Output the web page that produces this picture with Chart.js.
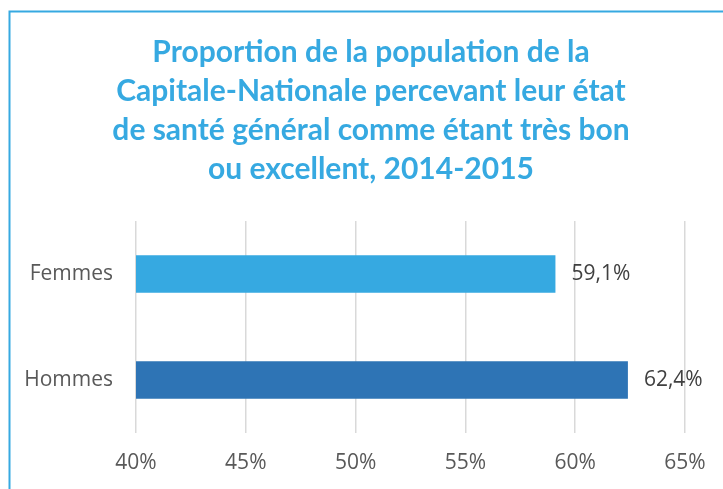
<!DOCTYPE html>
<html><head><meta charset="utf-8">
<script src="https://cdn.jsdelivr.net/npm/chart.js@4"></script>
<style>html,body{margin:0;padding:0;background:#fff;}#wrap{width:723px;height:489px;position:relative;}</style>
</head><body><div id="wrap"><canvas id="c" width="723" height="489"></canvas></div>
<script>
const titleLines = ["Proportion de la population de la","Capitale-Nationale percevant leur état","de santé général comme étant très bon","ou excellent, 2014-2015"];
const categories = ["Femmes","Hommes"];
const values = [59.1, 62.4];
const barColors = ["#36A9E1","#2E74B5"];
const valueLabels = ["59,1%","62,4%"];
const xMin = 40, xMax = 65, xStep = 5;

const frameAndTitle = {
  id:'frameAndTitle',
  beforeDraw(chart){
    const ctx = chart.ctx;
    ctx.save();
    ctx.fillStyle='#fff';ctx.fillRect(0,0,chart.width,chart.height);
    ctx.strokeStyle='#36A9E1';ctx.lineWidth=2;
    ctx.strokeRect(9.5,11.5,800,600);
    ctx.fillStyle='#36A9E1';
    ctx.font='bold 30px Lato';
    ctx.textAlign='center';ctx.textBaseline='alphabetic';
    const ys=[62,101,140,179];
    titleLines.forEach((t,i)=>ctx.fillText(t,371,ys[i]));
    ctx.restore();
  },
  afterDatasetsDraw(chart){
    const ctx=chart.ctx;const meta=chart.getDatasetMeta(0);
    ctx.save();ctx.fillStyle='#404040';ctx.font='21px "Open Sans"';
    ctx.textAlign='left';ctx.textBaseline='middle';
    meta.data.forEach((el,i)=>ctx.fillText(valueLabels[i],el.x+16,el.y));
    ctx.restore();
  }
};

function draw(){
new Chart(document.getElementById('c'),{
  type:'bar',
  data:{labels:categories,datasets:[{data:values,backgroundColor:barColors,barPercentage:0.356,categoryPercentage:1}]},
  options:{
    indexAxis:'y',responsive:false,animation:false,
    layout:{padding:{left:0,top:221,right:38,bottom:0}},
    plugins:{legend:{display:false},title:{display:false},tooltip:{enabled:false}},
    scales:{
      x:{min:xMin,max:xMax,ticks:{stepSize:xStep,padding:17,color:'#595959',font:{family:'Open Sans',size:21},callback:v=>v+'%'},
         grid:{color:'#D9D9D9',lineWidth:1.5,drawTicks:false},border:{display:false},
         afterFit(s){s.height=56;}},
      y:{ticks:{padding:23,color:'#595959',font:{family:'Open Sans',size:21}},grid:{display:false,drawTicks:false},border:{display:false},
         afterFit(s){s.width=136;}}
    }
  },
  plugins:[frameAndTitle]
});
}
Promise.all([document.fonts.load('21px "Open Sans"'),document.fonts.load('bold 30px Lato')]).then(draw,draw);
</script></body></html>
